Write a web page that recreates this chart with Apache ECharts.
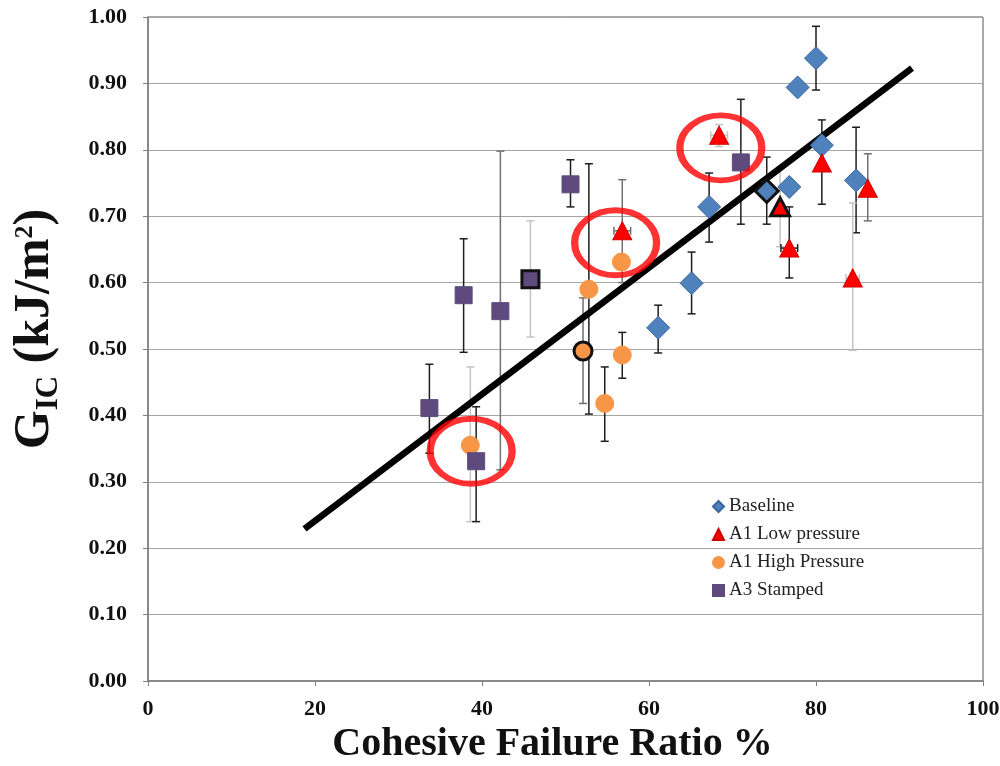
<!DOCTYPE html>
<html>
<head>
<meta charset="utf-8">
<script src="https://cdn.jsdelivr.net/npm/echarts@6/dist/echarts.min.js"></script>
<style>
html,body{margin:0;padding:0;background:#fff;}
#chart{width:1000px;height:766px;}
</style>
</head>
<body>
<div id="chart"></div>
<script>
// ---------------- data ----------------
const xTicks = [0, 20, 40, 60, 80, 100];
const yTickStep = 0.1;

const seriesNames = ['Baseline', 'A1 Low pressure', 'A1 High Pressure', 'A3 Stamped'];

const baselineX = [80.0, 77.8, 80.7, 67.2, 74.1, 76.8, 84.8, 65.1, 61.1];
const baselineY = [0.938, 0.894, 0.807, 0.714, 0.738, 0.744, 0.754, 0.599, 0.532];
const baselineLow = [0.890, null, null, 0.661, 0.688, null, 0.675, 0.553, 0.494];
const baselineHigh = [0.986, null, null, 0.765, 0.789, null, 0.834, 0.646, 0.566];
const baselineXErr = [null, null, null, null, null, null, null, null, null];

const lowPressX = [68.4, 56.8, 80.7, 75.7, 76.8, 86.2, 84.4];
const lowPressY = [0.822, 0.678, 0.780, 0.714, 0.652, 0.742, 0.607];
const lowPressLow = [0.805, 0.600, 0.718, 0.654, 0.607, 0.693, 0.498];
const lowPressHigh = [0.838, 0.755, 0.845, 0.774, 0.714, 0.794, 0.720];
const lowPressXErr = [1.0, 1.0, null, null, 1.0, null, 0.8];

const highPressX = [56.7, 52.8, 52.1, 56.8, 54.7, 38.6];
const highPressY = [0.631, 0.590, 0.497, 0.491, 0.418, 0.355];
const highPressLow = [null, 0.402, 0.418, 0.456, 0.361, 0.240];
const highPressHigh = [null, 0.779, 0.577, 0.525, 0.473, 0.473];
const highPressXErr = [null, null, null, null, null, null];

const stampedX = [33.7, 37.8, 39.3, 42.2, 45.8, 50.6, 71.0];
const stampedY = [0.411, 0.581, 0.331, 0.557, 0.605, 0.748, 0.781];
const stampedLow = [0.343, 0.495, 0.240, 0.318, 0.518, 0.714, 0.688];
const stampedHigh = [0.477, 0.666, 0.413, 0.798, 0.693, 0.785, 0.876];
const stampedXErr = [null, null, null, null, null, null, null];

// trend line end points
const trendX = [18.74, 91.5];
const trendY = [0.229, 0.923];

// highlighted (circled) regions
const circleX = [68.6, 56.0, 38.7];
const circleY = [0.803, 0.660, 0.346];

// ---------------- styles ----------------
const toneColor = { d: '#1e1e1e', m: '#707070', l: '#c4c4c4' };
const groups = [
  { name: seriesNames[0], x: baselineX, y: baselineY, lo: baselineLow, hi: baselineHigh, xe: baselineXErr,
    tone: ['d','d','d','d','d','d','d','d','d'], outlined: 4,
    symbol: 'diamond', size: 23, color: '#4f81bd', border: '#3a679e' },
  { name: seriesNames[1], x: lowPressX, y: lowPressY, lo: lowPressLow, hi: lowPressHigh, xe: lowPressXErr,
    tone: ['l','m','d','l','d','m','l'], outlined: 3,
    symbol: 'triangle', size: [19, 18], color: '#ff0000', border: '#d00000' },
  { name: seriesNames[2], x: highPressX, y: highPressY, lo: highPressLow, hi: highPressHigh, xe: highPressXErr,
    tone: ['d','d','m','d','d','l'], outlined: 2,
    symbol: 'circle', size: 18, color: '#f79646', border: '#f79646' },
  { name: seriesNames[3], x: stampedX, y: stampedY, lo: stampedLow, hi: stampedHigh, xe: stampedXErr,
    tone: ['d','d','d','m','l','d','d'], outlined: 4,
    symbol: 'rect', size: 17, color: '#5f4a7d', border: '#5f4a7d' }
];

const serif = '"Liberation Serif", "Times New Roman", serif';
const series = [];

// error bars
groups.forEach(function (g) {
  const data = [];
  g.x.forEach(function (xv, i) {
    const hasV = g.lo[i] != null && g.hi[i] != null;
    const hasH = g.xe[i] != null;
    if (hasV || hasH) {
      data.push({ value: [xv, g.y[i], hasV ? g.lo[i] : -1, hasV ? g.hi[i] : -1, hasH ? g.xe[i] : 0], tone: g.tone[i] });
    }
  });
  series.push({
    type: 'custom',
    name: g.name + ' err',
    z: 2,
    silent: true,
    data: data,
    encode: { x: 0, y: 1 },
    renderItem: function (params, api) {
      const xv = api.value(0), yv = api.value(1), lo = api.value(2), hi = api.value(3), xe = api.value(4);
      const col = toneColor[data[params.dataIndex].tone];
      const st = { stroke: col, lineWidth: 1.5 };
      const ch = [];
      const cap = 4;
      if (lo >= 0) {
        const a = api.coord([xv, lo]), b = api.coord([xv, hi]);
        ch.push({ type: 'line', shape: { x1: a[0], y1: a[1], x2: b[0], y2: b[1] }, style: st });
        ch.push({ type: 'line', shape: { x1: a[0] - cap, y1: a[1], x2: a[0] + cap, y2: a[1] }, style: st });
        ch.push({ type: 'line', shape: { x1: b[0] - cap, y1: b[1], x2: b[0] + cap, y2: b[1] }, style: st });
      }
      if (xe > 0) {
        const l = api.coord([xv - xe, yv]), r = api.coord([xv + xe, yv]);
        ch.push({ type: 'line', shape: { x1: l[0], y1: l[1], x2: r[0], y2: r[1] }, style: st });
        ch.push({ type: 'line', shape: { x1: l[0], y1: l[1] - cap, x2: l[0], y2: l[1] + cap }, style: st });
        ch.push({ type: 'line', shape: { x1: r[0], y1: r[1] - cap, x2: r[0], y2: r[1] + cap }, style: st });
      }
      return { type: 'group', children: ch };
    }
  });
});

// trend line
series.push({
  type: 'line',
  name: 'trend',
  z: 3,
  silent: true,
  symbol: 'none',
  data: trendX.map(function (v, i) { return [v, trendY[i]]; }),
  lineStyle: { color: '#000', width: 6.5 }
});

// markers
groups.forEach(function (g) {
  series.push({
    type: 'scatter',
    name: g.name,
    z: 4,
    symbol: g.symbol,
    symbolSize: g.size,
    itemStyle: { color: g.color, borderColor: g.border, borderWidth: 1, opacity: 1 },
    data: g.x.map(function (xv, i) {
      const item = { value: [xv, g.y[i]] };
      if (i === g.outlined) item.itemStyle = { borderColor: '#111', borderWidth: 3 };
      return item;
    })
  });
});

// red circles
series.push({
  type: 'scatter',
  name: 'highlight',
  z: 6,
  silent: true,
  symbol: 'path://M50,0 C77.6,0 100,22.4 100,50 C100,77.6 77.6,100 50,100 C22.4,100 0,77.6 0,50 C0,22.4 22.4,0 50,0 Z',
  symbolSize: [82, 65],
  itemStyle: { color: 'rgba(0,0,0,0)', borderColor: '#ff0000', borderWidth: 6.5 },
  data: circleX.map(function (v, i) { return [v, circleY[i]]; })
});

const chart = echarts.init(document.getElementById('chart'), null, { renderer: 'canvas' });
chart.setOption({
  animation: false,
  backgroundColor: '#fff',
  grid: { left: 148, right: 17, top: 17, bottom: 85, show: true, borderColor: '#555', borderWidth: 1,
          containLabel: false, outerBoundsMode: 'none' },
  legend: {
    orient: 'vertical',
    left: 707,
    top: 492,
    itemWidth: 11,
    itemHeight: 11,
    itemGap: 9,
    textStyle: { fontFamily: serif, fontSize: 19, color: '#222' },
    data: [
      { name: seriesNames[0], icon: 'diamond' },
      { name: seriesNames[1], icon: 'triangle' },
      { name: seriesNames[2], icon: 'circle' },
      { name: seriesNames[3], icon: 'rect' }
    ]
  },
  xAxis: {
    type: 'value',
    min: xTicks[0],
    max: xTicks[xTicks.length - 1],
    interval: xTicks[1] - xTicks[0],
    name: 'Cohesive Failure Ratio %',
    nameLocation: 'middle',
    nameGap: 44,
    nameTextStyle: { fontFamily: serif, fontWeight: 'bold', fontSize: 40, color: '#111', padding: [0, 26, 0, 0] },
    axisLine: { show: true, lineStyle: { color: '#808080', width: 1.5 } },
    axisTick: { show: true, length: 5, lineStyle: { color: '#808080' } },
    axisLabel: { fontFamily: serif, fontWeight: 'bold', fontSize: 22, color: '#111', margin: 17 },
    splitLine: { show: false }
  },
  yAxis: {
    type: 'value',
    min: 0,
    max: 1,
    interval: yTickStep,
    name: '{g|G}{sub|IC}{g| (kJ/m}{sup|2}{g|)}',
    nameLocation: 'middle',
    nameGap: 84,
    nameRotate: 90,
    nameTextStyle: {
      fontFamily: serif, fontWeight: 'bold', fontSize: 50, color: '#111',
      padding: [0, 0, 0, 40],
      rich: {
        g: { fontFamily: serif, fontWeight: 'bold', fontSize: 50, lineHeight: 58, color: '#111' },
        sub: { fontFamily: serif, fontWeight: 'bold', fontSize: 31, lineHeight: 31, verticalAlign: 'bottom', color: '#111' },
        sup: { fontFamily: serif, fontWeight: 'bold', fontSize: 26, lineHeight: 26, verticalAlign: 'top', padding: [6, 0, 0, 0], color: '#111' }
      }
    },
    axisLine: { show: true, lineStyle: { color: '#808080', width: 1.5 } },
    axisTick: { show: true, length: 5, lineStyle: { color: '#808080' } },
    axisLabel: {
      fontFamily: serif, fontWeight: 'bold', fontSize: 22, color: '#111', margin: 21,
      formatter: function (v) { return v.toFixed(2); }
    },
    splitLine: { show: true, lineStyle: { color: '#a6a6a6', width: 1.2 } }
  },
  series: series
});
</script>
</body>
</html>
